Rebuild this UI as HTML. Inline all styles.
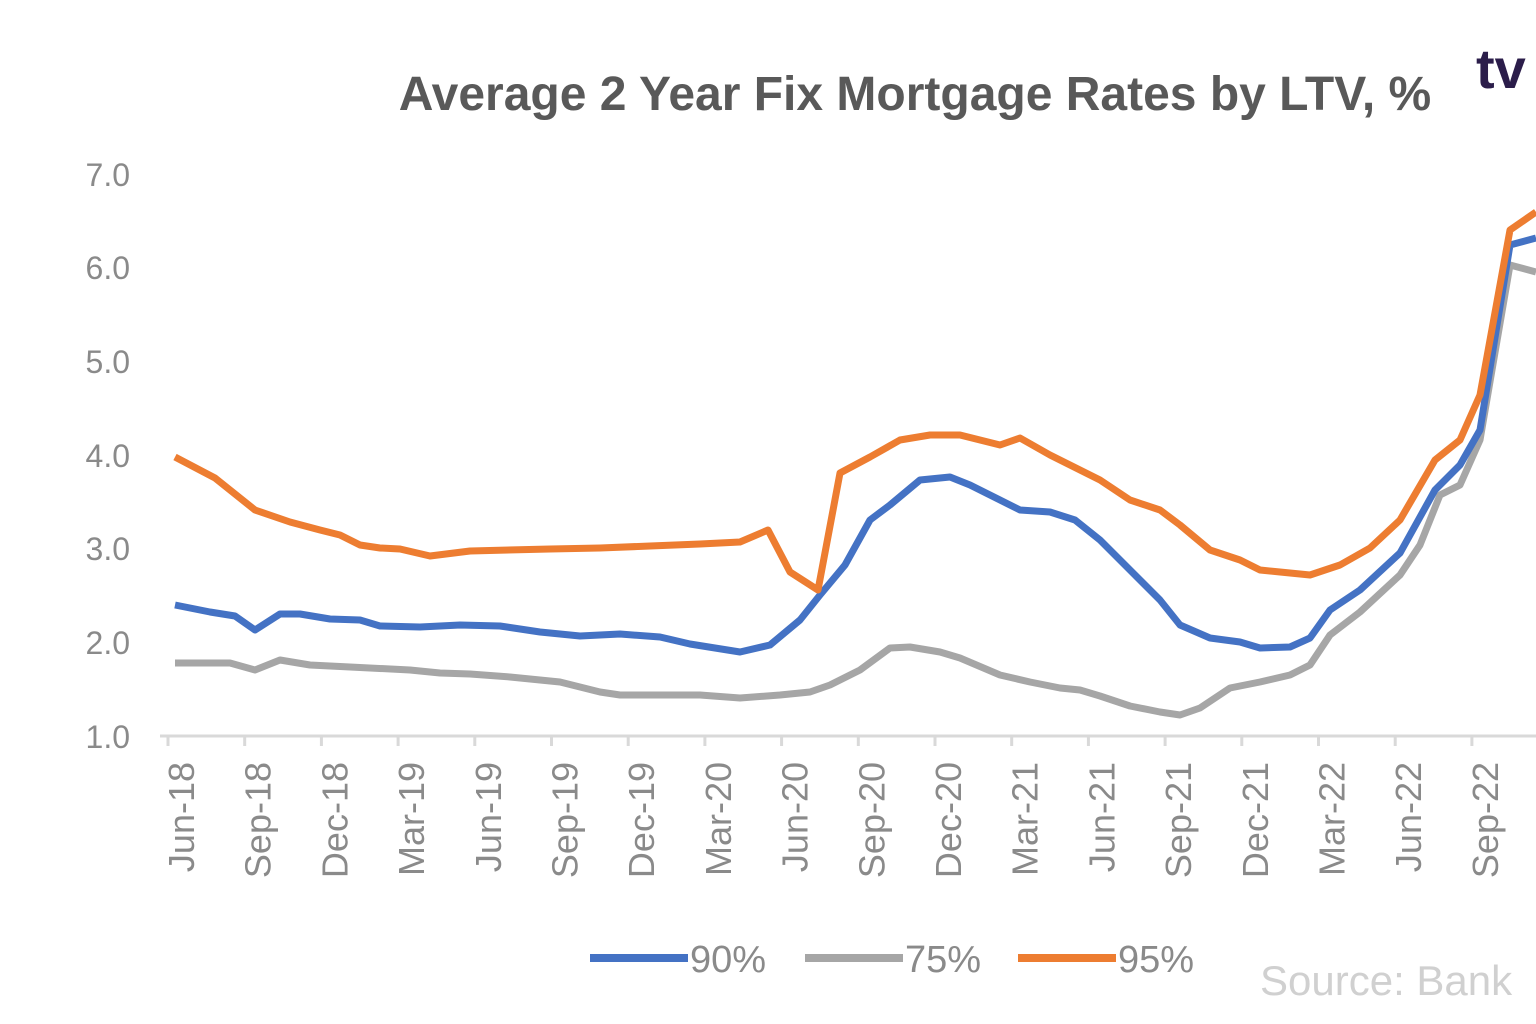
<!DOCTYPE html>
<html><head><meta charset="utf-8"><style>
html,body{margin:0;padding:0;background:#fff;}
svg{display:block;font-family:"Liberation Sans",sans-serif;}
</style></head><body>
<svg width="1536" height="1024" viewBox="0 0 1536 1024" xmlns="http://www.w3.org/2000/svg">
<text x="915" y="110" text-anchor="middle" font-size="48" font-weight="bold" fill="#595959">Average 2 Year Fix Mortgage Rates by LTV, %</text>
<text x="1476" y="88" font-size="56" font-weight="bold" fill="#2b1d4a">tv</text>
<g font-size="32" fill="#8a8a8a" text-anchor="end">
<text x="130" y="186">7.0</text><text x="130" y="279">6.0</text><text x="130" y="373">5.0</text>
<text x="130" y="467">4.0</text><text x="130" y="560">3.0</text><text x="130" y="654">2.0</text><text x="130" y="748">1.0</text>
</g>
<line x1="160" y1="736" x2="1536" y2="736" stroke="#d9d9d9" stroke-width="3"/>
<g stroke="#d9d9d9" stroke-width="3">
<line x1="168" y1="736" x2="168" y2="746"/><line x1="244.7" y1="736" x2="244.7" y2="746"/><line x1="321.4" y1="736" x2="321.4" y2="746"/><line x1="398.1" y1="736" x2="398.1" y2="746"/><line x1="474.8" y1="736" x2="474.8" y2="746"/><line x1="551.5" y1="736" x2="551.5" y2="746"/><line x1="628.2" y1="736" x2="628.2" y2="746"/><line x1="704.9" y1="736" x2="704.9" y2="746"/><line x1="781.6" y1="736" x2="781.6" y2="746"/><line x1="858.3" y1="736" x2="858.3" y2="746"/><line x1="935" y1="736" x2="935" y2="746"/><line x1="1011.7" y1="736" x2="1011.7" y2="746"/><line x1="1088.4" y1="736" x2="1088.4" y2="746"/><line x1="1165.1" y1="736" x2="1165.1" y2="746"/><line x1="1241.8" y1="736" x2="1241.8" y2="746"/><line x1="1318.5" y1="736" x2="1318.5" y2="746"/><line x1="1395.2" y1="736" x2="1395.2" y2="746"/><line x1="1471.9" y1="736" x2="1471.9" y2="746"/>
</g>
<g font-size="36" fill="#8a8a8a" text-anchor="end">
<text transform="translate(194,762) rotate(-90)">Jun-18</text>
<text transform="translate(270.7,762) rotate(-90)">Sep-18</text>
<text transform="translate(347.4,762) rotate(-90)">Dec-18</text>
<text transform="translate(424.1,762) rotate(-90)">Mar-19</text>
<text transform="translate(500.8,762) rotate(-90)">Jun-19</text>
<text transform="translate(577.5,762) rotate(-90)">Sep-19</text>
<text transform="translate(654.2,762) rotate(-90)">Dec-19</text>
<text transform="translate(730.9,762) rotate(-90)">Mar-20</text>
<text transform="translate(807.6,762) rotate(-90)">Jun-20</text>
<text transform="translate(884.3,762) rotate(-90)">Sep-20</text>
<text transform="translate(961,762) rotate(-90)">Dec-20</text>
<text transform="translate(1037.7,762) rotate(-90)">Mar-21</text>
<text transform="translate(1114.4,762) rotate(-90)">Jun-21</text>
<text transform="translate(1191.1,762) rotate(-90)">Sep-21</text>
<text transform="translate(1267.8,762) rotate(-90)">Dec-21</text>
<text transform="translate(1344.5,762) rotate(-90)">Mar-22</text>
<text transform="translate(1421.2,762) rotate(-90)">Jun-22</text>
<text transform="translate(1497.9,762) rotate(-90)">Sep-22</text>
</g>
<polyline fill="none" stroke="#a6a6a6" stroke-width="7" stroke-linejoin="round" points="175,663 200,663 230,663 255,670 280,660 310,665 350,667 410,670 440,673 470,674 510,677 560,682 600,692 620,695 700,695 740,698 780,695 810,692 830,685 860,670 890,648 910,647 940,652 960,658 1000,675 1030,682 1060,688 1080,690 1100,696 1130,706 1160,712 1180,715 1200,708 1230,688 1260,682 1290,675 1310,665 1330,635 1360,612 1400,575 1420,545 1440,495 1460,485 1480,440 1510,265 1536,272"/>
<polyline fill="none" stroke="#4472c4" stroke-width="7" stroke-linejoin="round" points="175,605 210,612 235,616 255,630 280,614 300,614 330,619 360,620 380,626 420,627 460,625 500,626 540,632 580,636 620,634 660,637 690,644 740,652 770,645 800,620 820,595 845,565 870,520 890,505 920,480 950,477 970,485 1000,500 1020,510 1050,512 1075,520 1100,540 1130,570 1160,600 1180,625 1210,638 1240,642 1260,648 1290,647 1310,638 1330,610 1360,590 1400,553 1435,490 1460,465 1480,430 1510,245 1536,238"/>
<polyline fill="none" stroke="#ed7d31" stroke-width="7" stroke-linejoin="round" points="175,457 215,478 255,510 290,522 320,530 340,535 360,545 380,548 400,549 430,556 470,551 550,549 600,548 650,546 700,544 740,542 768,530 790,572 818,590 840,473 870,457 900,440 930,435 960,435 1000,445 1020,438 1050,455 1080,470 1100,480 1130,500 1160,510 1180,525 1210,550 1240,560 1260,570 1280,572 1310,575 1340,565 1370,548 1400,520 1435,460 1460,440 1480,395 1510,230 1536,212"/>
<g font-size="38" fill="#8a8a8a">
<line x1="590" y1="958" x2="688" y2="958" stroke="#4472c4" stroke-width="8"/><text x="690" y="972">90%</text>
<line x1="805" y1="958" x2="903" y2="958" stroke="#a6a6a6" stroke-width="8"/><text x="905" y="972">75%</text>
<line x1="1018" y1="958" x2="1116" y2="958" stroke="#ed7d31" stroke-width="8"/><text x="1118" y="972">95%</text>
</g>
<text x="1260" y="995" font-size="42" fill="#d0d0d0">Source: Bank</text>
</svg>
</body></html>
